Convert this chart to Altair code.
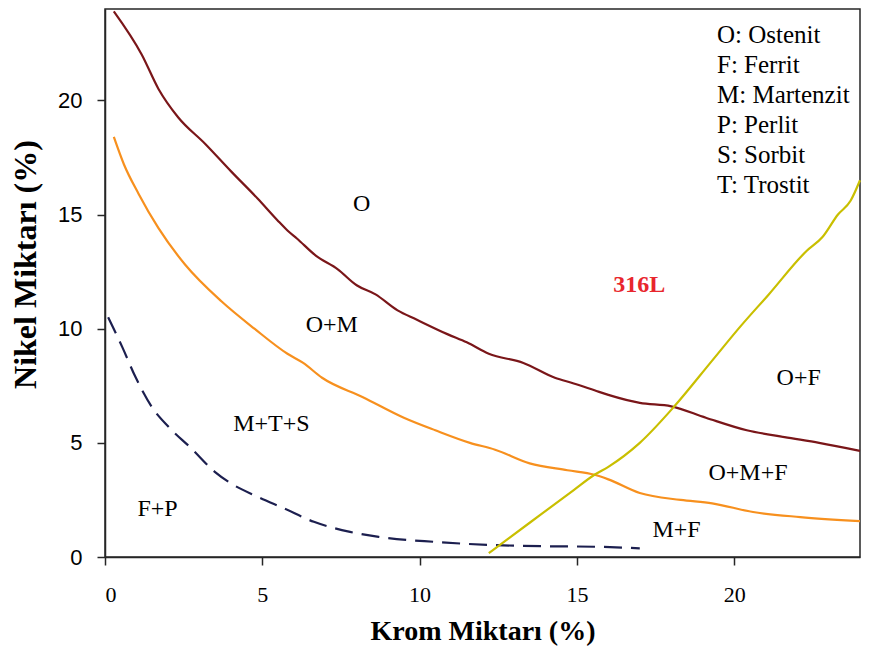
import altair as alt
import pandas as pd

# --- data ---
red_x = [0.28, 1.17, 1.7, 2.33, 3.18, 4.0, 4.85, 5.48, 5.8, 6.1, 6.7, 7.4, 8.0, 8.6, 9.3, 9.9,
         10.9, 11.5, 12.2, 13.3, 14.3, 14.9, 15.56, 16.0, 17.0, 18.0, 19.1, 20.4, 21.6, 22.7, 24.0]
red_y = [23.9, 22.0, 20.5, 19.25, 18.1, 16.9, 15.7, 14.75, 14.3, 13.95, 13.2, 12.6, 11.9, 11.5, 10.8, 10.4,
         9.75, 9.4, 8.9, 8.5, 7.85, 7.6, 7.3, 7.1, 6.75, 6.6, 6.1, 5.55, 5.25, 5.0, 4.65]

orange_x = [0.28, 0.6, 1.07, 1.7, 2.55, 3.7, 4.75, 5.8, 6.3, 6.9, 8.2, 9.5, 10.5, 11.6, 12.4, 13.5,
            14.7, 15.56, 16.0, 17.0, 18.3, 19.3, 20.6, 22.1, 24.0]
orange_y = [18.4, 17.2, 15.9, 14.4, 12.8, 11.2, 10.0, 8.9, 8.5, 7.85, 7.0, 6.1, 5.55, 5.0, 4.7, 4.1,
            3.8, 3.6, 3.4, 2.8, 2.5, 2.35, 1.97, 1.75, 1.57]

navy_x = [0.1, 0.55, 0.97, 1.49, 2.02, 2.75, 3.49, 4.01, 4.85, 5.69, 6.64, 7.79, 8.7, 10.5, 12.4, 14.0, 15.56, 17.0]
navy_y = [10.5, 9.19, 7.88, 6.57, 5.7, 4.75, 3.73, 3.22, 2.64, 2.13, 1.54, 1.1, 0.88, 0.66, 0.52, 0.47, 0.45, 0.38]

yellow_x = [12.2, 13.5, 14.9, 15.56, 16.0, 17.0, 18.1, 19.3, 20.2, 21.1, 22.3, 22.8, 23.3, 23.7, 24.0]
yellow_y = [0.17, 1.5, 2.93, 3.6, 3.95, 5.0, 6.6, 8.6, 10.1, 11.5, 13.4, 14.0, 15.0, 15.6, 16.5]

region_labels = ["O", "O+M", "M+T+S", "F+P", "O+F", "O+M+F", "M+F"]
region_x = [8.16, 7.21, 5.29, 1.67, 22.05, 20.44, 18.17]
region_y = [15.48, 10.14, 5.81, 2.1, 7.82, 3.67, 1.18]

steel_label = ["316L"]
steel_x = [16.98]
steel_y = [11.93]

legend_lines = ["O: Ostenit", "F: Ferrit", "M: Martenzit", "P: Perlit", "S: Sorbit", "T: Trostit"]

x_ticks = [0, 5, 10, 15, 20]
y_ticks = [0, 5, 10, 15, 20]

# --- chart ---
SERIF = "Liberation Serif"
SANS = "Liberation Sans"
FRAME = "#262626"
W, H = 755, 548

xscale = alt.Scale(domain=[0, 24], nice=False, zero=False)
yscale = alt.Scale(domain=[0, 24], nice=False, zero=False)

xaxis = alt.Axis(values=x_ticks, grid=False, tickSize=8, tickColor=FRAME, tickWidth=1.5,
                 domainColor=FRAME, domainWidth=1.5, labelFont=SERIF, labelFontSize=22,
                 labelColor="black", labelPadding=19, labelBaseline="top",
                 title="Krom Miktarı (%)", titleFont=SERIF, titleFontSize=28, titleFontWeight="bold",
                 titleColor="black", titleX=W / 2, titleY=82, titleAlign="center",
                 titleBaseline="alphabetic", titleAnchor="middle")
yaxis = alt.Axis(values=y_ticks, grid=False, tickSize=8, tickColor=FRAME, tickWidth=1.5,
                 domainColor=FRAME, domainWidth=1.5, labelFont=SANS, labelFontSize=22,
                 labelColor="black", labelPadding=15,
                 title="Nikel Miktarı (%)", titleFont=SERIF, titleFontSize=32, titleFontWeight="bold",
                 titleColor="black", titleX=-80, titleY=255, titleAngle=270, titleAlign="center",
                 titleBaseline="middle")


def curve(xs, ys, color, dash=None, width=2.2):
    df = pd.DataFrame({"x": xs, "y": ys})
    kw = dict(color=color, strokeWidth=width, interpolate="monotone")
    if dash:
        kw["strokeDash"] = dash
    return alt.Chart(df).mark_line(**kw).encode(
        x=alt.X("x:Q", scale=xscale, axis=xaxis),
        y=alt.Y("y:Q", scale=yscale, axis=yaxis),
        order=alt.Order("x:Q"),
    )


red = curve(red_x, red_y, "#7a1619")
orange = curve(orange_x, orange_y, "#f7901e")
navy = curve(navy_x, navy_y, "#1c1f4f", dash=[18, 9])
yellow = curve(yellow_x, yellow_y, "#c9bf00")

regions = alt.Chart(pd.DataFrame({"x": region_x, "y": region_y, "t": region_labels})).mark_text(
    font=SERIF, fontSize=24, color="black", align="center", baseline="middle"
).encode(x=alt.X("x:Q", scale=xscale), y=alt.Y("y:Q", scale=yscale), text="t:N")

steel = alt.Chart(pd.DataFrame({"x": steel_x, "y": steel_y, "t": steel_label})).mark_text(
    font=SERIF, fontSize=24, fontWeight="bold", color="#e8262d", align="center", baseline="middle"
).encode(x=alt.X("x:Q", scale=xscale), y=alt.Y("y:Q", scale=yscale), text="t:N")

legend = alt.Chart(pd.DataFrame({"t": ["\n".join(legend_lines)]})).mark_text(
    font=SERIF, fontSize=25, color="black", align="left", baseline="top",
    lineBreak="\n", lineHeight=30
).encode(x=alt.value(612), y=alt.value(14), text="t:N")

chart = alt.layer(red, orange, navy, yellow, regions, steel, legend).properties(
    width=W, height=H,
    autosize=alt.AutoSizeParams(type="none"),
    padding={"left": 97, "top": 1, "right": 1, "bottom": 90},
    background="white",
).configure_view(stroke=FRAME, strokeWidth=1.5)

chart.save("out.html", embed_options={"renderer": "svg", "actions": False})
